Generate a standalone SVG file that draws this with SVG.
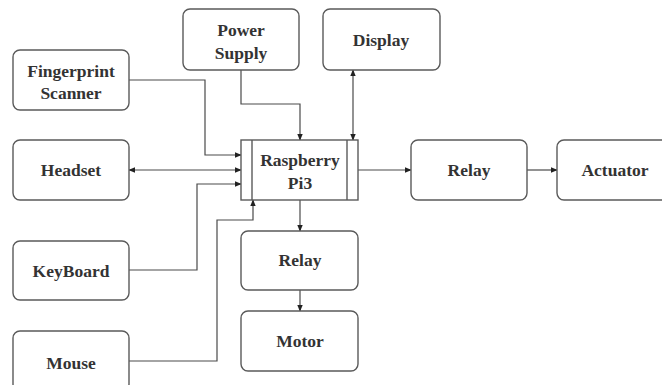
<svg xmlns="http://www.w3.org/2000/svg" width="662" height="385" viewBox="0 0 662 385">
<style>
.box{fill:#fff;stroke:#5a5a5a;stroke-width:1.4}
.t{font-family:"Liberation Serif","Times New Roman",serif;font-weight:bold;font-size:17.5px;fill:#333;text-anchor:middle}
.c{fill:none;stroke:#4a4a4a;stroke-width:1.2}
</style>
<defs>
<marker id="ah" viewBox="0 0 10 10" refX="9" refY="5" markerWidth="7" markerHeight="7" orient="auto-start-reverse" markerUnits="userSpaceOnUse">
<path d="M0,1 L10,5 L0,9 z" fill="#222"/>
</marker>
</defs>
<rect width="662" height="385" fill="#fff"/>
<g id="connectors">
<path class="c" d="M129,80 H205 V155 H241" marker-end="url(#ah)"/>
<path class="c" d="M129,170 H241" marker-start="url(#ah)" marker-end="url(#ah)"/>
<path class="c" d="M129,270 H197 V184 H241" marker-end="url(#ah)"/>
<path class="c" d="M129,361 H217 V220 H253 V200" marker-end="url(#ah)"/>
<path class="c" d="M241,70 V104 H300 V140" marker-end="url(#ah)"/>
<path class="c" d="M353,140 V70" marker-start="url(#ah)" marker-end="url(#ah)"/>
<path class="c" d="M358,170 H411" marker-end="url(#ah)"/>
<path class="c" d="M527,170 H557" marker-end="url(#ah)"/>
<path class="c" d="M300,200 V231" marker-end="url(#ah)"/>
<path class="c" d="M300,290 V311" marker-end="url(#ah)"/>
</g>
<g id="fingerprint"><rect class="box" x="13" y="50" width="116" height="60" rx="7"/><text class="t" x="71" y="77">Fingerprint</text><text class="t" x="71" y="99">Scanner</text></g>
<g id="headset"><rect class="box" x="13" y="140" width="116" height="60" rx="7"/><text class="t" x="71" y="176">Headset</text></g>
<g id="keyboard"><rect class="box" x="13" y="241" width="116" height="59" rx="7"/><text class="t" x="71" y="277">KeyBoard</text></g>
<g id="mouse"><rect class="box" x="13" y="331" width="116" height="60" rx="7"/><text class="t" x="71" y="369">Mouse</text></g>
<g id="power"><rect class="box" x="183" y="9" width="116" height="61" rx="7"/><text class="t" x="241" y="36">Power</text><text class="t" x="241" y="59">Supply</text></g>
<g id="display"><rect class="box" x="323" y="9" width="117" height="61" rx="7"/><text class="t" x="381" y="46">Display</text></g>
<g id="pi"><rect class="box" x="241" y="140" width="117" height="60"/><line class="box" x1="252" y1="140" x2="252" y2="200"/><line class="box" x1="347" y1="140" x2="347" y2="200"/><text class="t" x="300" y="166">Raspberry</text><text class="t" x="300" y="189">Pi3</text></g>
<g id="relay1"><rect class="box" x="411" y="140" width="116" height="60" rx="7"/><text class="t" x="469" y="176">Relay</text></g>
<g id="actuator"><rect class="box" x="557" y="140" width="116" height="60" rx="7"/><text class="t" x="615" y="176">Actuator</text></g>
<g id="relay2"><rect class="box" x="241" y="231" width="117" height="59" rx="7"/><text class="t" x="300" y="266">Relay</text></g>
<g id="motor"><rect class="box" x="241" y="311" width="117" height="60" rx="7"/><text class="t" x="300" y="347">Motor</text></g>
</svg>
